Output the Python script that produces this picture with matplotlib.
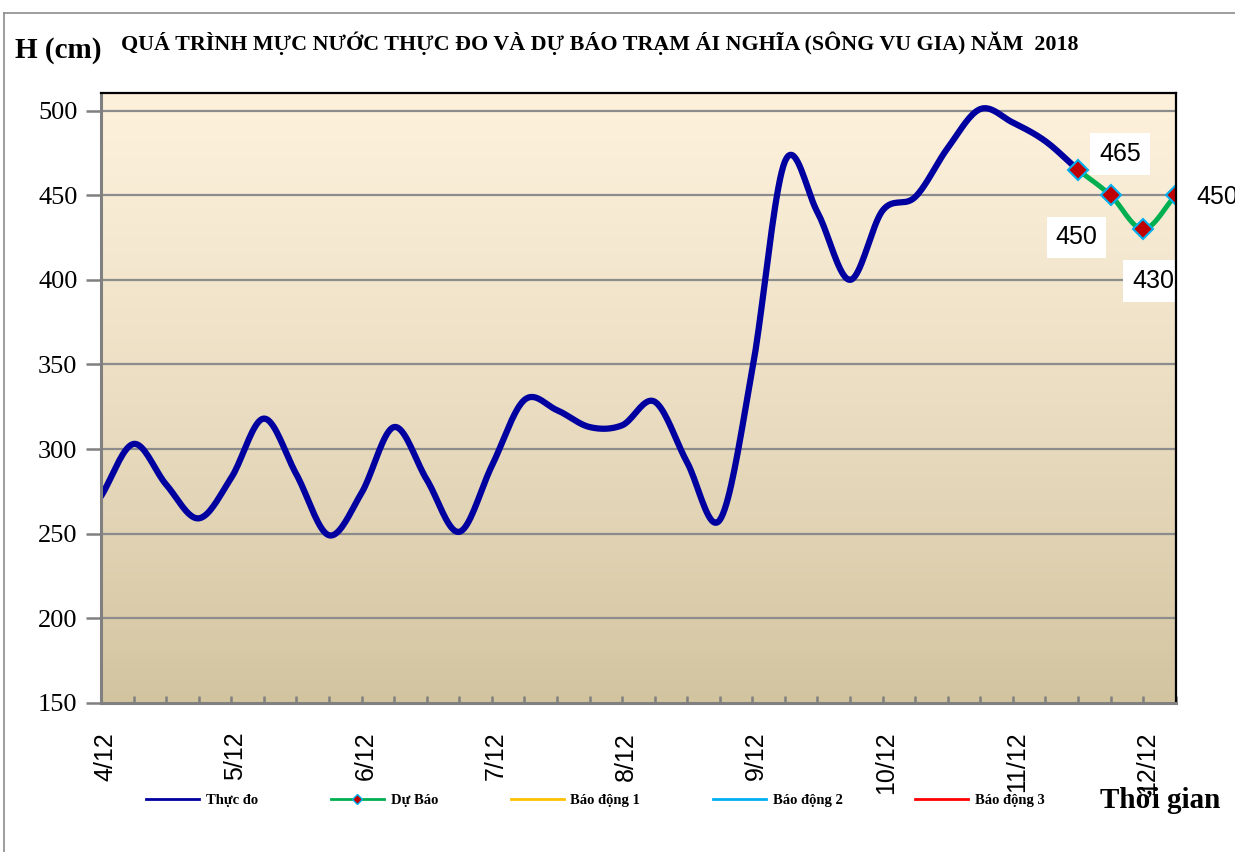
import numpy as np
import matplotlib
matplotlib.use("Agg")
import matplotlib.pyplot as plt
from matplotlib.lines import Line2D
import matplotlib.transforms as mtransforms

# ---------------- data ----------------
# 6-hourly steps starting 4/12 00h
day_labels = ["4/12", "5/12", "6/12", "7/12", "8/12", "9/12", "10/12", "11/12", "12/12"]
observed = [272, 303, 279, 259, 283, 318, 285, 249, 274, 313, 282, 251,
            290, 329, 323, 313, 314, 328, 292, 258, 347, 470, 440, 400,
            441, 449, 478, 501, 493, 482, 465]
forecast = [465, 450, 430, 450]
forecast_start = 30
y_ticks = [150, 200, 250, 300, 350, 400, 450, 500]
legend_labels = ["Thực đo", "Dự Báo", "Báo động 1", "Báo động 2", "Báo động 3"]
title = "QUÁ TRÌNH MỰC NƯỚC THỰC ĐO VÀ DỰ BÁO TRẠM ÁI NGHĨA (SÔNG VU GIA) NĂM  2018"

SERIF = ["Liberation Serif", "DejaVu Serif"]
SANS = ["Liberation Sans", "DejaVu Sans"]


def smooth(x, y, n=20):
    """Catmull-Rom style smoothing similar to Excel's smoothed line."""
    x = np.asarray(x, float)
    y = np.asarray(y, float)
    if len(x) < 3:
        return x, y
    px = np.concatenate([[2 * x[0] - x[1]], x, [2 * x[-1] - x[-2]]])
    py = np.concatenate([[2 * y[0] - y[1]], y, [2 * y[-1] - y[-2]]])
    xs, ys = [], []
    t = np.linspace(0, 1, n, endpoint=False)
    for i in range(1, len(px) - 2):
        p0, p1, p2, p3 = py[i - 1], py[i], py[i + 1], py[i + 2]
        q0, q1, q2, q3 = px[i - 1], px[i], px[i + 1], px[i + 2]
        tt = t
        ys.append(0.5 * ((2 * p1) + (-p0 + p2) * tt + (2 * p0 - 5 * p1 + 4 * p2 - p3) * tt**2 + (-p0 + 3 * p1 - 3 * p2 + p3) * tt**3))
        xs.append(0.5 * ((2 * q1) + (-q0 + q2) * tt + (2 * q0 - 5 * q1 + 4 * q2 - q3) * tt**2 + (-q0 + 3 * q1 - 3 * q2 + q3) * tt**3))
    xs.append([x[-1]])
    ys.append([y[-1]])
    return np.concatenate(xs), np.concatenate(ys)


W, H = 1235, 852
fig = plt.figure(figsize=(W / 100, H / 100), dpi=100)
fig.patch.set_facecolor("white")

L, R, T, B = 101, 1175.7, 93, 702.7
ax = fig.add_axes([L / W, 1 - B / H, (R - L) / W, (B - T) / H])

n_steps = forecast_start + len(forecast) - 1
ax.set_xlim(0, n_steps)
ax.set_ylim(150, 510.5)

# background gradient
top_c = np.array([253, 241, 220]) / 255
bot_c = np.array([211, 196, 160]) / 255
g = np.linspace(0, 1, 256)[:, None] ** 1.2
grad = top_c[None, :] * (1 - g) + bot_c[None, :] * g
grad = grad[:, None, :]
ax.imshow(grad, extent=[0, 1, 0, 1], transform=ax.transAxes, aspect="auto", zorder=0)
ax.set_facecolor("none")

# grid
for v in y_ticks[1:]:
    ax.axhline(v, color="#8c8c8c", lw=1.6, zorder=1)

# observed line
xo = np.arange(len(observed))
sx, sy = smooth(xo, observed)
ax.plot(sx, sy, color="#0000A0", lw=4.5, solid_capstyle="round", zorder=3)

# forecast
xf = np.arange(forecast_start, forecast_start + len(forecast))
fx, fy = smooth(xf, forecast)
ax.plot(fx, fy, color="#00B050", lw=3.6, zorder=4)
ax.plot(xf, forecast, ls="none", marker="D", ms=10, mfc="#C00000", mec="#00B0F0", mew=1.5, zorder=5)

offsets = [(42, 16), (-34, -42), (10, -52), (42, -2)]
for xv, yv, off in zip(xf, forecast, offsets):
    ax.annotate(str(yv), (xv, yv), xytext=off, textcoords="offset pixels",
                ha="center", va="center", fontsize=18, family=SANS, color="black",
                bbox=dict(boxstyle="square,pad=0.35", fc="white", ec="none"),
                zorder=6, annotation_clip=False)

# axes styling
ax.spines["left"].set_color("#808080")
ax.spines["left"].set_linewidth(2.2)
ax.spines["bottom"].set_color("#808080")
ax.spines["bottom"].set_linewidth(2.2)
ax.spines["top"].set_color("black")
ax.spines["top"].set_linewidth(1.6)
ax.spines["right"].set_color("black")
ax.spines["right"].set_linewidth(1.6)
for s in ax.spines.values():
    s.set_zorder(7)

ax.set_yticks(y_ticks)
ax.set_yticklabels([str(v) for v in y_ticks], fontsize=19, family=SERIF)
ax.tick_params(axis="y", direction="out", length=11, width=1.8, color="#808080", pad=6)

ax.set_xticks(np.arange(0, n_steps + 1))
ax.set_xticklabels([day_labels[i // 4] if i % 4 == 0 else "" for i in range(n_steps + 1)],
                   rotation=90, fontsize=18, family=SANS)
ax.tick_params(axis="x", direction="in", length=5, width=1.8, color="#808080", pad=21)
shift = mtransforms.ScaledTranslation(4 / 100, 0, fig.dpi_scale_trans)
for lab in ax.get_xticklabels():
    lab.set_transform(lab.get_transform() + shift)

# texts
fig.text(15 / W, 1 - 50 / H, "H (cm)", fontsize=21, fontweight="bold", family=SERIF,
         ha="left", va="center")
fig.text(600 / W, 1 - 43 / H, title, fontsize=15.8, fontweight="bold", family=SERIF,
         ha="center", va="center")
fig.text(1100 / W, 1 - 801 / H, "Thời gian", fontsize=21, fontweight="bold", family=SERIF,
         ha="left", va="center")

# legend
handles = [
    Line2D([], [], color="#0000A0", lw=2),
    Line2D([], [], color="#00B050", lw=2, marker="D", ms=5, mfc="#C00000", mec="#00B0F0", mew=1),
    Line2D([], [], color="#FFC000", lw=2),
    Line2D([], [], color="#00B0F0", lw=2),
    Line2D([], [], color="#FF0000", lw=2),
]
fs = 10.5
px = fs * 100 / 72
leg = fig.legend(handles, legend_labels, loc="center left", bbox_to_anchor=(146 / W, 1 - 800 / H),
                 ncol=5, frameon=False, handlelength=53 / px, handletextpad=7 / px,
                 columnspacing=72.5 / px, borderaxespad=0, borderpad=0,
                 prop=dict(family=SERIF, size=fs, weight="bold"))

# outer border
fig.add_artist(Line2D([4 / W, 4 / W], [0, 1 - 13 / H], color="#8c8c8c", lw=1.2, transform=fig.transFigure))
fig.add_artist(Line2D([4 / W, 1], [1 - 13 / H, 1 - 13 / H], color="#8c8c8c", lw=1.2, transform=fig.transFigure))

fig.savefig("out.png", dpi=100)
